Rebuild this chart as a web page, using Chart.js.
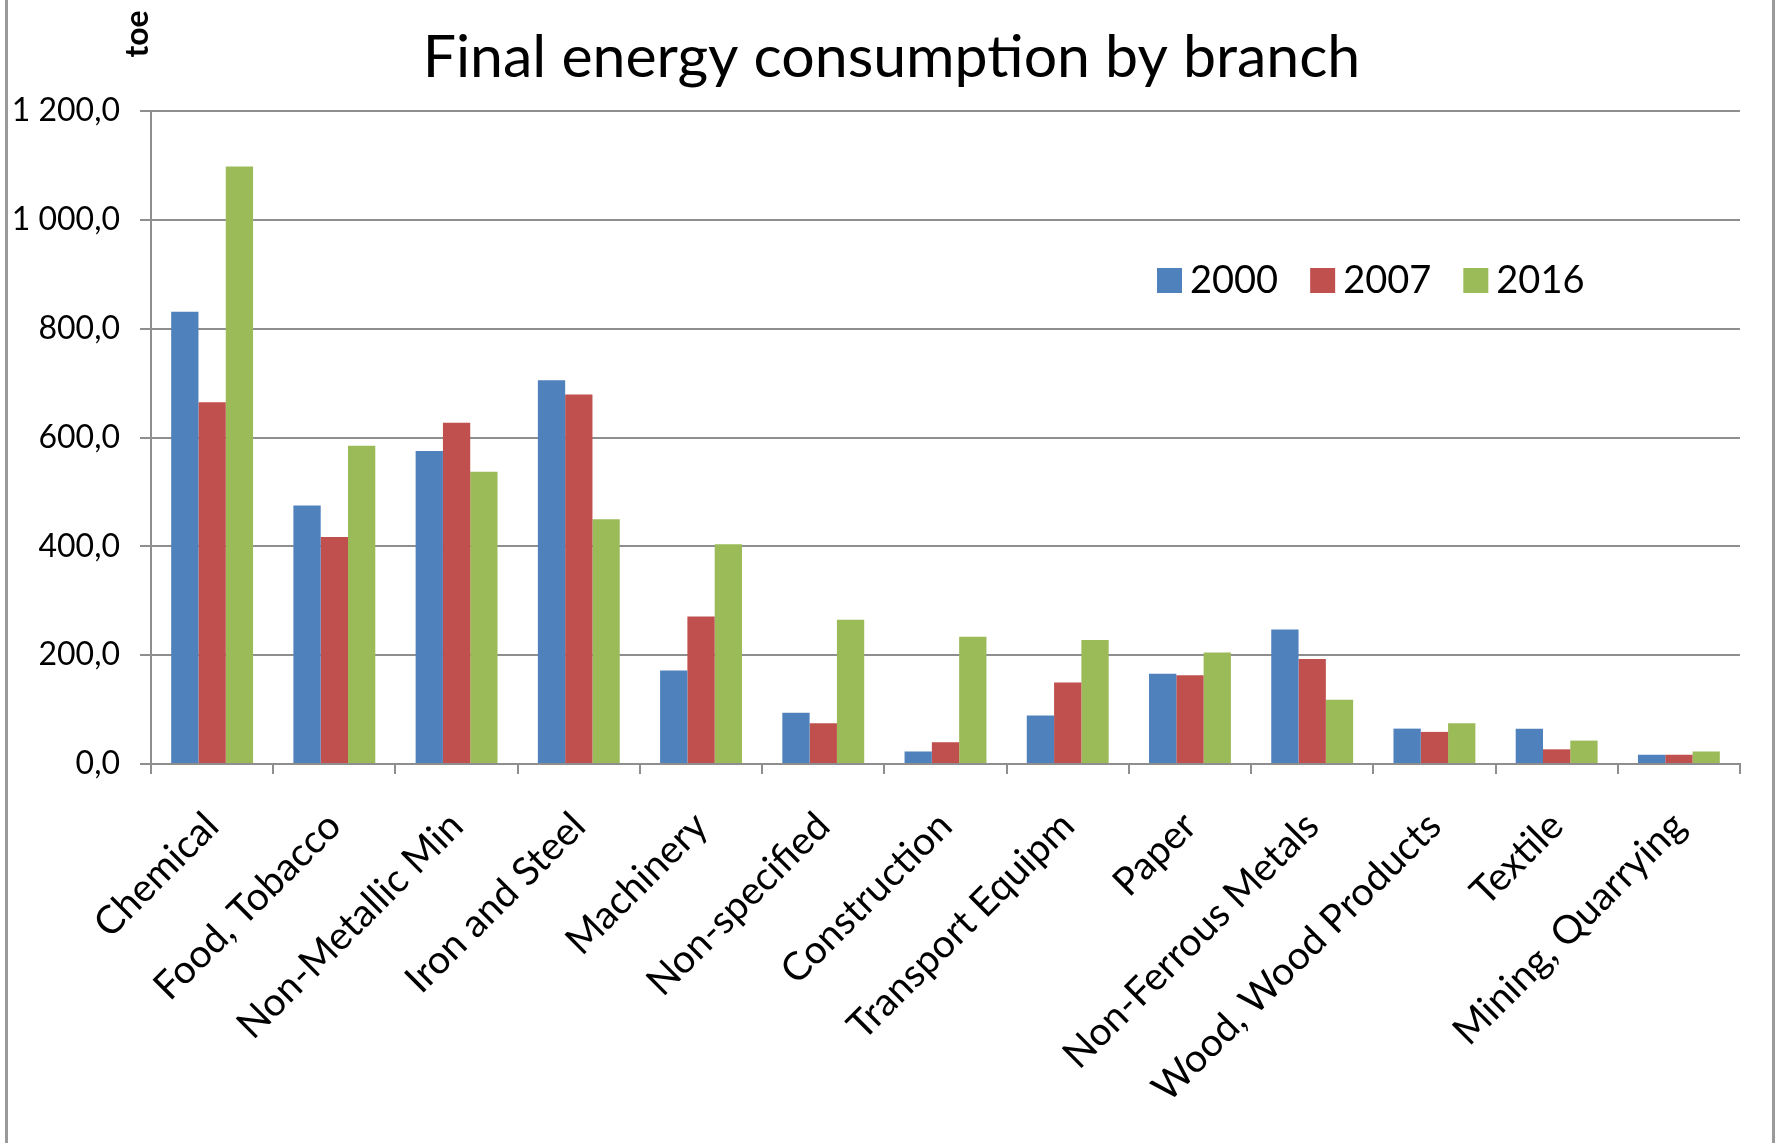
<!DOCTYPE html>
<html>
<head>
<meta charset="utf-8">
<script src="https://cdn.jsdelivr.net/npm/chart.js@4.4.0/dist/chart.umd.min.js"></script>
<style>
  html, body { margin: 0; padding: 0; background: #fff; }
  #wrap { width: 1783px; height: 1143px; position: relative; }
</style>
</head>
<body>
<div id="wrap"><canvas id="chart" width="1783" height="1143"></canvas></div>
<script>
// categories and series (toe)
const branches = [
  "Chemical", "Food, Tobacco", "Non-Metallic Min", "Iron and Steel", "Machinery",
  "Non-specified", "Construction", "Transport Equipm", "Paper", "Non-Ferrous Metals",
  "Wood, Wood Products", "Textile", "Mining, Quarrying"
];
const years = ["2000", "2007", "2016"];
const values2000 = [831, 475, 575, 705, 172, 94, 23, 89, 166, 247, 65, 65, 17];
const values2007 = [665, 417, 627, 679, 271, 75, 40, 150, 163, 193, 59, 27, 17];
const values2016 = [1098, 585, 537, 450, 404, 265, 234, 228, 205, 118, 75, 43, 23];
const yTickLabels = ["0,0", "200,0", "400,0", "600,0", "800,0", "1 000,0", "1 200,0"];

const colors = ["#4F81BD", "#C0504D", "#9BBB59"];
const FONT = "Lato, 'Open Sans', sans-serif";
const GRID = "#8e8e8e";

const decor = {
  id: "decor",
  afterDraw(chart) {
    const c = chart.ctx;
    const W = chart.width, H = chart.height;
    c.save();
    // outer frame (left/right edges of the Excel chart box)
    c.strokeStyle = "#9a9a9a";
    c.lineWidth = 3;
    c.beginPath();
    c.moveTo(6.5, 0); c.lineTo(6.5, H);
    c.moveTo(1773.5, 0); c.lineTo(1773.5, H);
    c.stroke();

    // title
    c.fillStyle = "#000";
    c.font = "59px " + FONT;
    c.textAlign = "center";
    c.textBaseline = "alphabetic";
    c.fillText("Final energy consumption by branch", W / 2, 77);

    // unit label
    c.save();
    c.translate(148, 34);
    c.rotate(-Math.PI / 2);
    c.font = "bold 32px " + FONT;
    c.textAlign = "center";
    c.textBaseline = "alphabetic";
    c.fillText("toe", 0, 0);
    c.restore();

    // legend
    let x = 1157;
    const y = 280;
    c.font = "38px " + FONT;
    c.textAlign = "left";
    c.textBaseline = "middle";
    chart.data.datasets.forEach((ds) => {
      c.fillStyle = ds.backgroundColor;
      c.fillRect(x, y - 12, 25, 25);
      c.fillStyle = "#000";
      c.fillText(ds.label, x + 33, y + 1);
      x += 33 + c.measureText(ds.label).width + 32;
    });
    c.restore();
  }
};

new Chart(document.getElementById("chart"), {
  type: "bar",
  data: {
    labels: branches,
    datasets: [
      { label: years[0], data: values2000, backgroundColor: colors[0] },
      { label: years[1], data: values2007, backgroundColor: colors[1] },
      { label: years[2], data: values2016, backgroundColor: colors[2] }
    ]
  },
  options: {
    responsive: false,
    animation: false,
    layout: { padding: { top: 111, right: 43, left: 0, bottom: 0 } },
    datasets: {
      bar: { barPercentage: 1, categoryPercentage: 0.67, borderWidth: 0 }
    },
    plugins: {
      legend: { display: false },
      title: { display: false },
      tooltip: { enabled: false }
    },
    scales: {
      x: {
        afterFit(scale) { scale.height = 379; },
        border: { display: true, color: GRID, width: 2 },
        grid: {
          display: true, offset: true, drawOnChartArea: false,
          drawTicks: true, tickLength: 10, color: GRID, lineWidth: 2
        },
        ticks: {
          autoSkip: false, minRotation: 45, maxRotation: 45,
          padding: 29, color: "#000", font: { family: FONT, size: 39 }
        }
      },
      y: {
        min: 0, max: 1200,
        afterFit(scale) { scale.width = 151; },
        border: { display: true, color: GRID, width: 2 },
        grid: { color: GRID, lineWidth: 2, tickLength: 11 },
        ticks: {
          stepSize: 200, padding: 20, color: "#000",
          font: { family: FONT, size: 32 },
          callback: (v, i) => yTickLabels[i]
        }
      }
    }
  },
  plugins: [decor]
});
</script>
</body>
</html>
